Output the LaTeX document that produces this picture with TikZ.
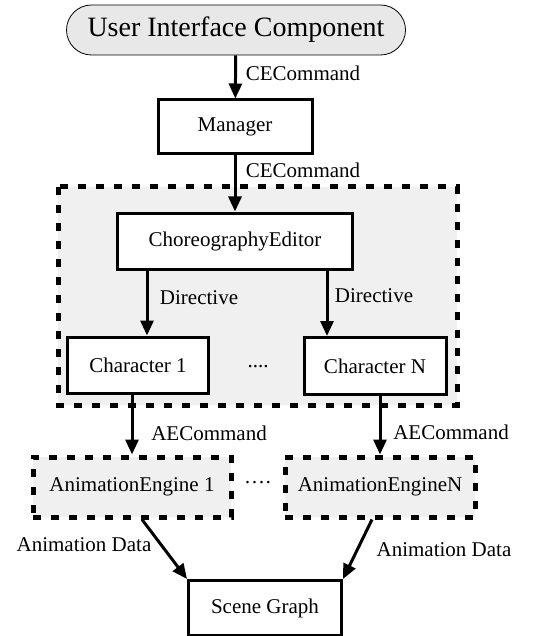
\documentclass[tikz,border=0pt]{standalone}
\usepackage{fontspec}
\setmainfont{Liberation Serif}
\usetikzlibrary{arrows.meta}
\def\boxfont{\fontsize{21}{24}\selectfont}
\tikzset{
  box/.style={draw, line width=3pt, fill=white, inner sep=0pt, font=\boxfont},
  dashbox/.style={draw, line width=5pt, dash pattern=on 8pt off 10pt, fill=black!6, inner sep=0pt, font=\boxfont},
  pill/.style={draw, line width=0.8pt, fill=black!9, rounded corners=25pt, inner sep=0pt, font=\fontsize{28}{32}\selectfont},
  flow/.style={line width=3pt, -{Triangle[length=15pt,width=13pt]}},
  lbl/.style={inner sep=0pt, font=\boxfont},
}

\begin{document}
\begin{tikzpicture}[x=1pt,y=-1pt]
		\useasboundingbox (0,0) rectangle (544,636);
		
		%%%%% CONTAINER %%%%%
		\draw[line width=5pt, dash pattern=on 8pt off 10pt, fill=black!6] (58,187) rectangle (457,405);
		
		%%%%% NODES %%%%%
		\node[pill, minimum width=339pt, minimum height=50pt] (ui) at (236,30) {User Interface Component};
		\node[box, minimum width=154pt, minimum height=54pt] (mgr) at (235,127) {Manager};
		\node[box, minimum width=235pt, minimum height=56pt] (ce) at (235,241) {ChoreographyEditor};
		\node[box, minimum width=141pt, minimum height=56pt] (ch1) at (138,365) {Character 1};
		\node[box, minimum width=142pt, minimum height=57pt] (chn) at (375,366) {Character N};
		\node[dashbox, minimum width=198pt, minimum height=60pt] (ae1) at (132,487) {AnimationEngine 1};
		\node[dashbox, minimum width=190pt, minimum height=60pt] (aen) at (380,487) {AnimationEngineN};
		\node[box, minimum width=153pt, minimum height=55pt] (sg) at (265,608) {Scene Graph};
		
		\node[lbl] (dots1) at (258,367) {....};
		\node[lbl] (dots2) at (258,485) {····};
		
		%%%%% CONNECTORS %%%%%
		\draw[flow] (ui) -- (mgr);
		\draw[flow] (mgr) -- (ce);
		\draw[flow] ([xshift=9pt]ch1.north |- ce.south) -- ([xshift=9pt]ch1.north);
		\draw[flow] ([xshift=-48pt]chn.north |- ce.south) -- ([xshift=-48pt]chn.north);
		\draw[flow] (ae1.north |- ch1.south) -- (ae1.north);
		\draw[flow] (aen.north |- chn.south) -- (aen.north);
		\draw[flow] ([xshift=10pt]ae1.south) -- (sg.north west);
		\draw[flow] ([xshift=-8pt]aen.south) -- (sg.north east);
		
		%%%%% LABELS %%%%%
		\node[lbl] (l1) at (303,73) {CECommand};
		\node[lbl] (l2) at (303,170) {CECommand};
		\node[lbl] (l3) at (199,298) {Directive};
		\node[lbl] (l4) at (374,296) {Directive};
		\node[lbl] (l5) at (209,433) {AECommand};
		\node[lbl] (l6) at (451,432) {AECommand};
		\node[lbl] (l7) at (84,545) {Animation Data};
		\node[lbl] (l8) at (444,550) {Animation Data};
		
	\end{tikzpicture}
\end{document}
